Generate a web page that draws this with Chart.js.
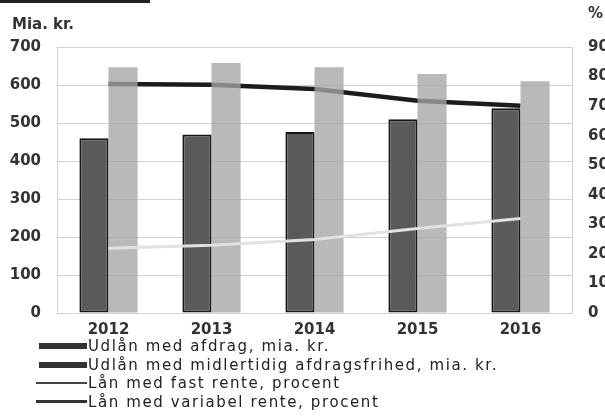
<!DOCTYPE html>
<html>
<head>
<meta charset="utf-8">
<script src="https://cdn.jsdelivr.net/npm/chart.js@4.4.1/dist/chart.umd.min.js"></script>
<style>
  html, body { margin: 0; padding: 0; background: #fff; overflow: hidden; width: 605px; height: 417px; }
  #wrap { position: relative; width: 620px; height: 345px; }
  #topline { position: absolute; left: 0; top: 0; width: 150px; height: 3px; background: #222; z-index: 2; }
  #legend { position: absolute; left: 36px; top: 337px; font: 15px "DejaVu Sans", Verdana, sans-serif; color: #222; letter-spacing: 1.6px; }
  .item { display: flex; align-items: center; height: 18.5px; white-space: nowrap; }
  .swatch { width: 51px; margin-right: 1px; background: #333; }
</style>
</head>
<body>
<div id="topline"></div>
<div id="wrap"><canvas id="chart" width="620" height="345"></canvas></div>
<div id="legend"></div>
<script>
 // Data
 const years = ['2012', '2013', '2014', '2015', '2016'];
 const afdrag = [460, 470, 476, 510, 539];
 const afdragsfrihed = [647, 658, 647, 629, 610];
 const fastRente = [21.9, 22.9, 24.9, 28.6, 32.0];
 const variabelRente = [77.5, 77.2, 75.8, 71.8, 70.1];

 const leftAxis = {min: 0, max: 700, step: 100, unit: 'Mia. kr.'};
 const rightAxis = {min: 0, max: 90, step: 10, unit: '%'};

 const labels = [
     'Udlån med afdrag, mia. kr.',
     'Udlån med midlertidig afdragsfrihed, mia. kr.',
     'Lån med fast rente, procent',
     'Lån med variabel rente, procent'
 ];

 const tickFont = {family: '"DejaVu Sans", Verdana, sans-serif', size: 15, weight: 'bold'};
 const gridColor = '#d2d2d2';

 // unit text above both y axes
 const unitLabels = {
     id: 'unitLabels',
     afterDraw(chart) {
         const ctx = chart.ctx;
         ctx.save();
         ctx.font = 'bold 15px "DejaVu Sans", Verdana, sans-serif';
         ctx.fillStyle = '#333';
         ctx.textBaseline = 'middle';
         ctx.textAlign = 'left';
         ctx.fillText(leftAxis.unit, 12, 25);
         ctx.fillText(rightAxis.unit, chart.chartArea.right + 16, 14);
         ctx.restore();
     }
 };

 const chart = new Chart(document.getElementById('chart'), {
     type: 'bar',
     data: {
         labels: years,
         datasets: [
             {
                 type: 'line', label: labels[3], data: variabelRente, yAxisID: 'y2',
                 borderColor: '#1c1c1c', borderWidth: 4.5, pointRadius: 0, tension: 0, order: 4
             },
             {
                 label: labels[1], data: afdragsfrihed, yAxisID: 'y',
                 backgroundColor: 'rgba(165,165,165,0.78)', borderWidth: 0, order: 3,
                 categoryPercentage: 0.565, barPercentage: 1
             },
             {
                 label: labels[0], data: afdrag, yAxisID: 'y',
                 backgroundColor: '#5a5a5a', borderColor: '#151515', borderWidth: 2, borderSkipped: false, order: 2,
                 categoryPercentage: 0.565, barPercentage: 1
             },
             {
                 type: 'line', label: labels[2], data: fastRente, yAxisID: 'y2',
                 borderColor: '#e2e2e2', borderWidth: 3, pointRadius: 0, tension: 0, order: 1
             }
         ]
     },
     options: {
         responsive: false,
         animation: false,
         layout: {padding: {top: 47, left: 8, right: 11, bottom: 0}},
         plugins: {legend: {display: false}, tooltip: {enabled: false}},
         scales: {
             x: {
                 grid: {display: false, drawTicks: false},
                 border: {display: true, color: gridColor},
                 ticks: {color: '#333', font: tickFont, padding: 8},
                 afterFit: scale => { scale.height = 32; }
             },
             y: {
                 position: 'left',
                 min: leftAxis.min, max: leftAxis.max,
                 grid: {color: gridColor, drawTicks: false},
                 border: {display: true, color: gridColor},
                 ticks: {stepSize: leftAxis.step, color: '#333', font: tickFont, padding: 16},
                 afterFit: scale => { scale.width = 49; }
             },
             y2: {
                 position: 'right',
                 min: rightAxis.min, max: rightAxis.max,
                 grid: {display: false, drawTicks: false},
                 border: {display: true, color: gridColor},
                 ticks: {stepSize: rightAxis.step, color: '#333', font: tickFont, padding: 16},
                 afterFit: scale => { scale.width = 37; }
             }
         }
     },
     plugins: [unitLabels]
 });

 // Legend as a plain list, like the original
 const swatchStyles = [
     {height: '6px', width: '48px', marginLeft: '3px'},
     {height: '6px', width: '48px', marginLeft: '3px'},
     {height: '2px', background: '#444'},
     {height: '3px', background: '#333'}
 ];
 const legend = document.getElementById('legend');
 labels.forEach((text, i) => {
     const row = document.createElement('div');
     row.className = 'item';
     const sw = document.createElement('span');
     sw.className = 'swatch';
     Object.assign(sw.style, swatchStyles[i]);
     const label = document.createElement('span');
     label.textContent = text;
     row.appendChild(sw);
     row.appendChild(label);
     legend.appendChild(row);
 });
</script>
</body>
</html>
